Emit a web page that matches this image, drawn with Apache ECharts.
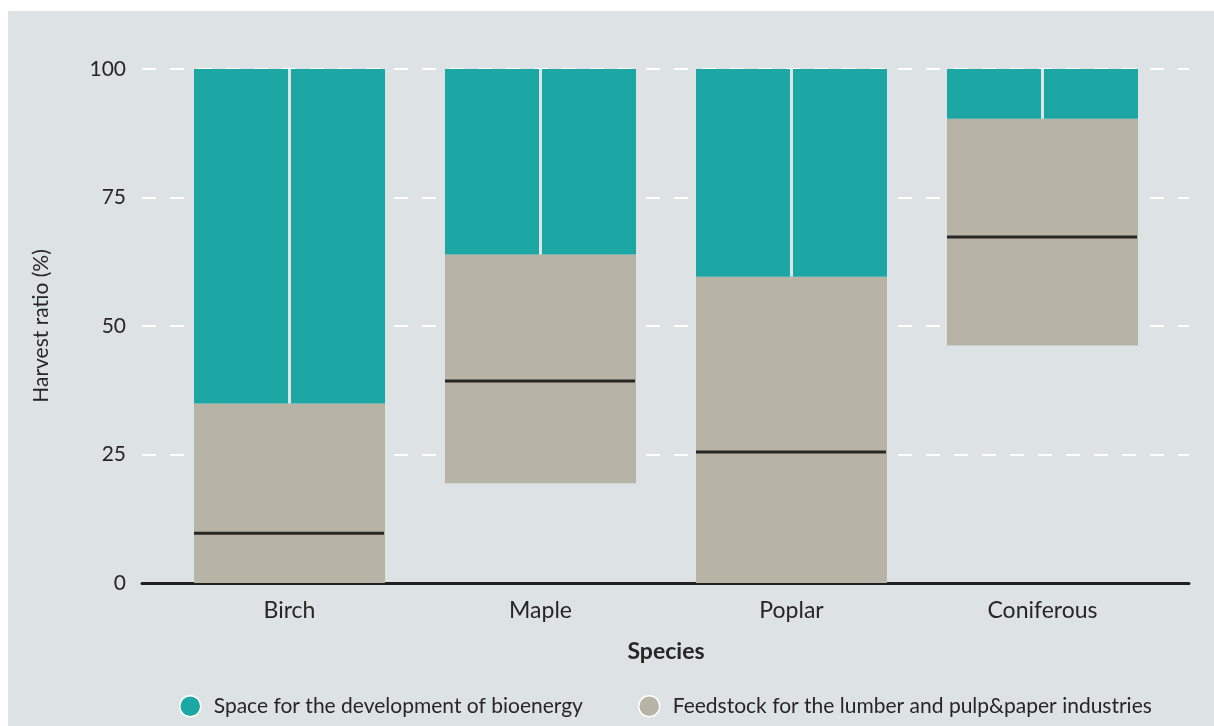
<!DOCTYPE html>
<html>
<head>
<meta charset="utf-8">
<script src="https://cdn.jsdelivr.net/npm/echarts@6/dist/echarts.min.js"></script>
<style>
  html, body { margin: 0; padding: 0; background: #ffffff; }
  #chart { width: 1214px; height: 726px; }
</style>
</head>
<body>
<div id="chart"></div>
<script>
// Harvest ratio ranges by species
const species = ['Birch', 'Maple', 'Poplar', 'Coniferous'];
const feedstockLow = [0, 19.4, 0, 46.2];      // lower end of the feedstock range
const feedstockHigh = [34.9, 63.9, 59.6, 90.3]; // upper end of the feedstock range
const feedstockMedian = [9.7, 39.3, 25.5, 67.3];
const yTicks = [0, 25, 50, 75, 100];

const seriesNames = [
  'Space for the development of bioenergy',
  'Feedstock for the lumber and pulp&paper industries'
];

const TEAL = '#1ca7a5';
const TAUPE = '#b7b4a6';
const PANEL = '#dde2e5';
const INK = '#262626';
const FONT = 'Lato';
const BAR_RATIO = 0.761;

const feedstockSpan = feedstockHigh.map((h, i) => +(h - feedstockLow[i]).toFixed(2));
const bioenergySpan = feedstockHigh.map(h => +(100 - h).toFixed(2));
const rangeData = species.map((s, i) => [i, feedstockLow[i], feedstockHigh[i], feedstockMedian[i]]);

const chart = echarts.init(document.getElementById('chart'), null, { renderer: 'canvas' });

const option = {
  backgroundColor: '#ffffff',
  animation: false,
  textStyle: { fontFamily: FONT, color: INK },
  graphic: [{
    type: 'rect',
    z: -10,
    silent: true,
    shape: { x: 8, y: 11, width: 1214 - 8, height: 726 - 11 },
    style: { fill: PANEL }
  }],
  legend: {
    left: 179,
    top: 695,
    padding: 0,
    itemGap: 55,
    itemWidth: 21,
    itemHeight: 21,
    icon: 'circle',
    data: seriesNames,
    textStyle: { fontFamily: FONT, fontSize: 21, color: INK, padding: [0, 0, 0, 8] },
    itemStyle: { borderColor: '#ffffff', borderWidth: 1.5 }
  },
  grid: [
    // frame grid: y labels, dashed guides, baseline
    { left: 142, right: 25, top: 69, bottom: 143 },
    // bar grid
    { left: 164, right: 46, top: 69, bottom: 143 }
  ],
  xAxis: [
    {
      gridIndex: 0, type: 'value', min: 0, max: 1,
      axisLine: { show: true, lineStyle: { color: '#231f20', width: 3 } },
      axisTick: { show: false }, axisLabel: { show: false }, splitLine: { show: false }
    },
    {
      gridIndex: 1, type: 'category', data: species,
      axisLine: { show: false }, axisTick: { show: false },
      axisLabel: { fontFamily: FONT, fontSize: 23, color: INK, margin: 16 },
      name: 'Species', nameLocation: 'middle', nameGap: 57,
      nameTextStyle: { fontFamily: FONT, fontSize: 23, fontWeight: 'bold', color: INK }
    }
  ],
  yAxis: [
    {
      gridIndex: 0, type: 'value', min: 0, max: 100, interval: 25,
      axisLine: { show: false }, axisTick: { show: false },
      axisLabel: {
        fontFamily: FONT, fontSize: 21, color: INK, margin: 16,
        formatter: v => (yTicks.includes(v) ? String(v) : '')
      },
      splitLine: { show: true, lineStyle: { color: '#ffffff', width: 2, type: [14, 14] } },
      name: 'Harvest ratio (%)', nameLocation: 'middle', nameGap: 90,
      nameTextStyle: { fontFamily: FONT, fontSize: 21, color: INK }
    },
    {
      gridIndex: 1, type: 'value', min: 0, max: 100, show: false,
      splitLine: { show: false }
    }
  ],
  series: [
    {
      name: 'base', type: 'bar', stack: 'r', xAxisIndex: 1, yAxisIndex: 1,
      barWidth: (BAR_RATIO * 100) + '%', silent: true,
      itemStyle: { color: 'rgba(0,0,0,0)' },
      data: feedstockLow
    },
    {
      name: seriesNames[1], type: 'bar', stack: 'r', xAxisIndex: 1, yAxisIndex: 1,
      itemStyle: { color: TAUPE },
      data: feedstockSpan
    },
    {
      name: seriesNames[0], type: 'bar', stack: 'r', xAxisIndex: 1, yAxisIndex: 1,
      itemStyle: { color: TEAL },
      data: bioenergySpan
    },
    {
      // median marks and divider in the bioenergy part
      name: 'marks', type: 'custom', xAxisIndex: 1, yAxisIndex: 1, z: 5, silent: true,
      encode: { x: 0, y: [1, 2, 3] },
      data: rangeData,
      renderItem: function (params, api) {
        const idx = api.value(0);
        const high = api.value(2);
        const med = api.value(3);
        const band = api.size([1, 0])[0];
        const half = band * BAR_RATIO / 2;
        const pMed = api.coord([idx, med]);
        const pHigh = api.coord([idx, high]);
        const pTop = api.coord([idx, 100]);
        return {
          type: 'group',
          children: [
            {
              type: 'line',
              shape: { x1: pMed[0] - half, y1: pMed[1], x2: pMed[0] + half - 1, y2: pMed[1] },
              style: { stroke: '#2a2727', lineWidth: 3 }
            },
            {
              type: 'line',
              shape: { x1: pTop[0], y1: pTop[1], x2: pHigh[0], y2: pHigh[1] },
              style: { stroke: '#dfe4e6', lineWidth: 3 }
            }
          ]
        };
      }
    }
  ]
};

chart.setOption(option);
</script>
</body>
</html>
